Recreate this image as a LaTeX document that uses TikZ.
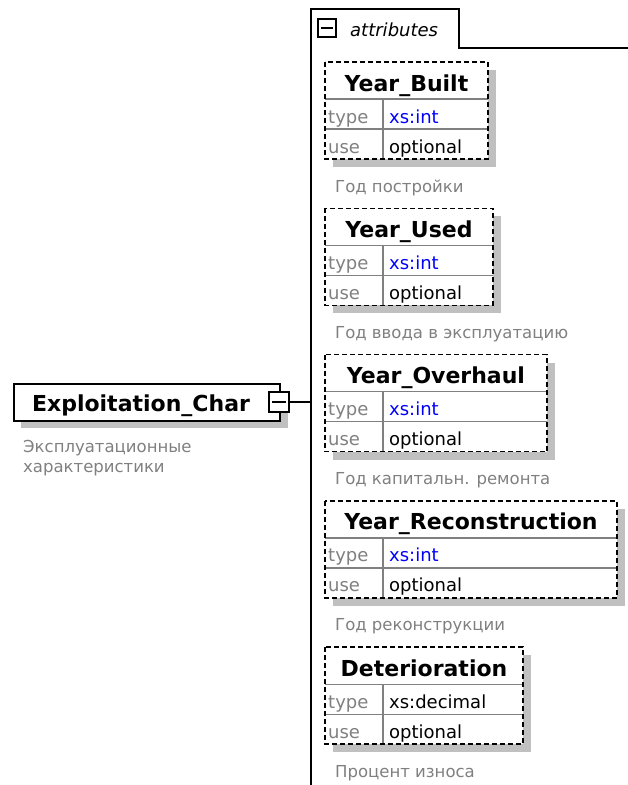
\documentclass[tikz,border=0pt]{standalone}
\usepackage{fontspec}
\setmainfont{DejaVu Sans}
\usetikzlibrary{calc, positioning}
\definecolor{typeblue}{RGB}{0,0,255}
\definecolor{notegray}{RGB}{128,128,128}
\definecolor{shadowgray}{RGB}{192,192,192}

\begin{document}
\begin{tikzpicture}[
        x=1pt, y=-1pt,
        title/.style={font=\fontsize{22}{24}\selectfont\bfseries, inner sep=0pt},
        cell/.style={font=\fontsize{18}{20}\selectfont, inner sep=0pt, anchor=base west},
        note/.style={font=\fontsize{16.5}{20}\selectfont, text=notegray, inner sep=0pt, anchor=base west, align=left},
        frame/.style={draw=black, line width=1.5pt},
        attrline/.style={draw=notegray, line width=1.2pt},
        minusbox/.style={draw=black, fill=white, line width=1.5pt, minimum size=20pt, inner sep=0pt}
    ]
    \useasboundingbox (0,0) rectangle (628,785);

    % Attributes frame and tab
    \coordinate (trunktop) at (311,9);
    \coordinate (trunkbot) at (311,785);
    \coordinate (trunk) at (311,402);
    \draw[frame] (trunkbot) -- (trunktop) -- (459,9) -- (459,48) -- (628,48);
    \node[minusbox, minimum size=18pt] (tabminus) at (327,28) {};
    \draw[line width=1.5pt] ($(tabminus.west)+(4,0)$) -- ($(tabminus.east)+(-4,0)$);
    \node[cell, font=\fontsize{18}{20}\selectfont\itshape] (tablabel) at (350,36) {attributes};

    % Element
    \fill[shadowgray] (21,391) rectangle (288,428);
    \node[frame, fill=white, minimum width=266pt, minimum height=37pt, anchor=north west] (exbox) at (13,383) {};
    \node[title, anchor=base] (exname) at (141,411) {Exploitation\_Char};
    \node[minusbox] (exminus) at (279,402) {};
    \draw[line width=1.5pt] ($(exminus.west)+(4,0)$) -- ($(exminus.east)+(-4,0)$);
    \draw[frame] (exminus) -- (trunk);
    \node[note] (exnote) at (23,472) {Эксплуатационные\\характеристики};

    % Attributes
    \foreach \i/\nm/\xr/\tp/\tc/\ds in {
        0/Year\_Built/488/xs:int/typeblue/Год постройки,
        1/Year\_Used/493/xs:int/typeblue/Год ввода в эксплуатацию,
        2/Year\_Overhaul/547/xs:int/typeblue/Год капитальн. ремонта,
        3/Year\_Reconstruction/617/xs:int/typeblue/Год реконструкции,
        4/Deterioration/523/xs:decimal/black/Процент износа}{
        \pgfmathsetmacro\yt{62+146.3*\i}
        \fill[shadowgray] (333,\yt+8) rectangle (\xr+8,\yt+105);
        \coordinate (nw\i) at (325,\yt);
        \coordinate (se\i) at (\xr,\yt+97);
        \fill[white] (nw\i) rectangle (se\i);
        \draw[attrline] (325,\yt+37) -- (\xr,\yt+37);
        \draw[attrline] (325,\yt+67) -- (\xr,\yt+67);
        \draw[attrline] (383,\yt+37) -- (383,\yt+97);
        \draw[line width=1.5pt, dash pattern=on 5pt off 3pt] (nw\i) rectangle (se\i);
        \node[title, anchor=base] (name\i) at ({(325+\xr)/2},\yt+29) {\nm};
        \node[cell, text=notegray] (typekey\i) at (328,\yt+61) {type};
        \node[cell, text=\tc] (typeval\i) at (389,\yt+61) {\tp};
        \node[cell, text=notegray] (usekey\i) at (328,\yt+91) {use};
        \node[cell] (useval\i) at (389,\yt+91) {optional};
        \node[note] (note\i) at (335,\yt+130) {\ds};
    }

\end{tikzpicture}
\end{document}
